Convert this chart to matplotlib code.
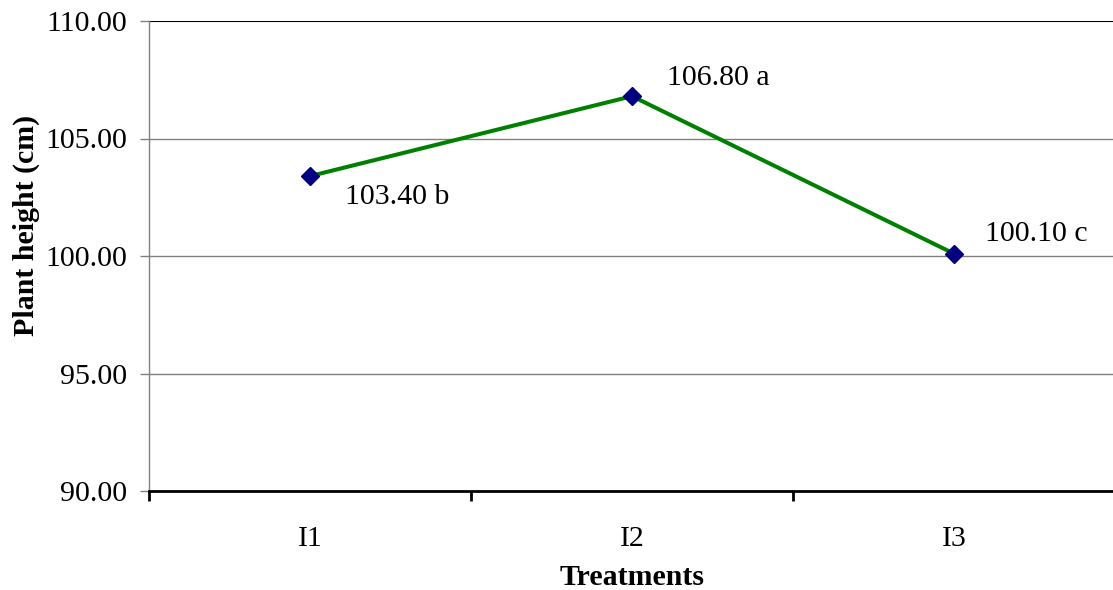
import matplotlib
matplotlib.use("Agg")
import matplotlib.pyplot as plt

treatments = ["I1", "I2", "I3"]
plant_height = [103.40, 106.80, 100.10]
letters = ["b", "a", "c"]
yticks = [90, 95, 100, 105, 110]

plt.rcParams['font.family'] = ['Liberation Serif', 'DejaVu Serif']
fs = 21.5

fig = plt.figure(figsize=(11.13, 5.90), dpi=100)
ax = fig.add_axes([149/1113, 99/590, 966/1113, 470/590])

x = list(range(1, len(treatments) + 1))

# gridlines
for yv in yticks[1:-1]:
    ax.axhline(yv, color='#808080', lw=1.0, zorder=1)
ax.axhline(yticks[-1], color='black', lw=1.5, zorder=1)

ax.plot(x, plant_height, color='#008000', lw=2.9, marker='D',
        markersize=9.5, markerfacecolor='#000080', markeredgecolor='#000080',
        zorder=3, clip_on=False)

# labels next to points
offsets = [(25, -15), (25, 13), (22, 14)]
for xi, v, l, off in zip(x, plant_height, letters, offsets):
    ax.annotate(f"{v:.2f} {l}", (xi, v), xytext=off, textcoords='offset points',
                ha='left', va='center', fontsize=fs)

ax.set_xlim(0.5, 3.5)
ax.set_ylim(90, 110)

ax.set_yticks(yticks)
ax.set_yticklabels([f"{t:.2f}" for t in yticks], fontsize=fs)
ax.tick_params(axis='y', direction='out', length=6.5, width=1.0, color='#808080', pad=9)

ax.set_xticks(x)
ax.set_xticklabels(treatments, fontsize=fs)
ax.set_xticks([0.5, 1.5, 2.5, 3.5], minor=True)
ax.tick_params(axis='x', which='major', length=0, pad=25)
ax.tick_params(axis='x', which='minor', direction='out', length=7, width=2, color='black')

for s in ['top', 'right']:
    ax.spines[s].set_visible(False)
ax.spines['left'].set_color('#808080')
ax.spines['left'].set_linewidth(1.0)
ax.spines['bottom'].set_color('black')
ax.spines['bottom'].set_linewidth(2.0)
ax.spines['bottom'].set_zorder(4)

ax.set_xlabel("Treatments", fontsize=fs, fontweight='bold')
ax.xaxis.set_label_coords(0.5, -0.155)
ax.set_ylabel("Plant height (cm)", fontsize=fs, fontweight='bold')
ax.yaxis.set_label_coords(-0.113, 0.566)

fig.savefig("out.png", dpi=100)
